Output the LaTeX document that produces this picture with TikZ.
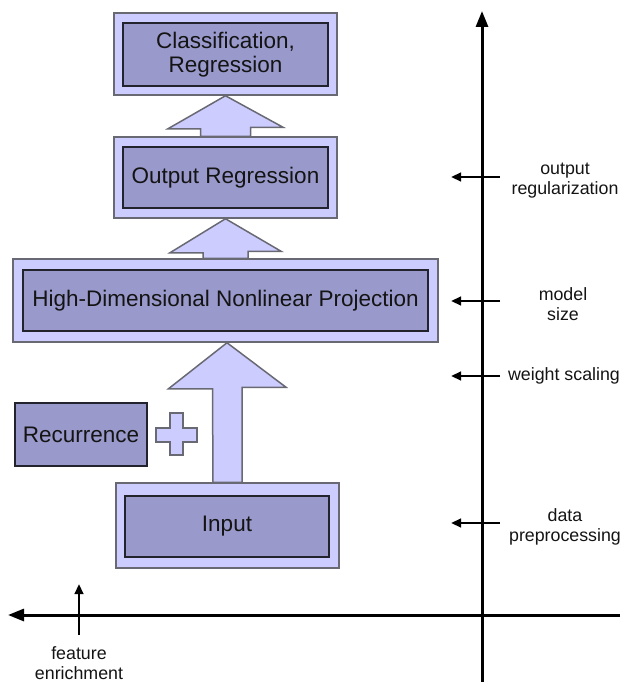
\documentclass[tikz,border=0pt]{standalone}
\usepackage{fontspec}
\setmainfont{Liberation Sans}
\usetikzlibrary{arrows.meta,calc}

\definecolor{outerfill}{RGB}{204,204,255}
\definecolor{innerfill}{RGB}{153,153,204}
\definecolor{outerline}{RGB}{105,105,115}
\definecolor{innerline}{RGB}{35,35,45}

\tikzset{
  outerbox/.style={draw=outerline, fill=outerfill, line width=1.5pt, rectangle, inner sep=0pt},
  innerbox/.style={draw=innerline, fill=innerfill, line width=1.4pt, rectangle, inner sep=0pt,
                   font=\fontsize{22.5}{24}\selectfont, align=center, text=black!92},
  blockarrow/.style={draw=outerline, fill=outerfill, line width=1.5pt, line join=miter},
  axisline/.style={line width=3pt, -{Triangle[length=16pt, width=12pt]}},
  tickarrow/.style={line width=2.6pt, -{Triangle[length=10pt, width=8.5pt]}},
  sidelabel/.style={font=\fontsize{17.8}{20}\selectfont, align=center, inner sep=0pt, text=black!92}
}

\begin{document}
\begin{tikzpicture}[x=1pt, y=-1pt]
  \useasboundingbox (0,0) rectangle (623,682);

  % stacked blocks, outer frames first
  \node[outerbox, minimum width=223pt, minimum height=82pt] (clsO) at (225.5,54) {};
  \node[innerbox, minimum width=205pt, minimum height=63pt] (cls) at (225.5,54.5)
       {Classification,\\Regression};

  \node[outerbox, minimum width=223pt, minimum height=81pt] (outO) at (225.5,177.5) {};
  \node[innerbox, minimum width=205pt, minimum height=61pt] (out) at (225.5,177.5)
       {Output Regression};

  \node[outerbox, minimum width=425pt, minimum height=83pt] (hdnO) at (225.5,300.5) {};
  \node[innerbox, minimum width=405pt, minimum height=61pt] (hdn) at (225.5,300.5)
       {High-Dimensional Nonlinear Projection};

  \node[outerbox, minimum width=223pt, minimum height=85pt] (inO) at (227.5,525.5) {};
  \node[innerbox, minimum width=204pt, minimum height=61pt] (in) at (227,526.5)
       {Input};

  \node[innerbox, minimum width=132pt, minimum height=63pt] (rec) at (81,434.5)
       {Recurrence};

  % plus sign
  \draw[blockarrow] (170,413) -- (183,413) -- (183,428) -- (197,428) -- (197,442)
       -- (183,442) -- (183,455) -- (170,455) -- (170,442) -- (156,442)
       -- (156,428) -- (170,428) -- cycle;

  % block arrows between the stages
  \draw[blockarrow] (clsO.south) -- ++(-57.5,33) -- ++(32.5,0)
       -- ($(outO.north)+(-25,0)$) -- ($(outO.north)+(25,0)$)
       -- ++(0,-9) -- ++(32.5,0) -- cycle;
  \draw[blockarrow] (outO.south) -- ++(-55.5,34) -- ++(33,0)
       -- ($(hdnO.north)+(-22.5,0)$) -- ($(hdnO.north)+(22.5,0)$)
       -- ++(0,-7) -- ++(33,0) -- cycle;
  \draw[blockarrow] ($(hdnO.south)+(1.5,0)$) -- ++(-58.5,46) -- ++(44,0)
       -- ($(inO.north)+(-14.5,0)$) -- ($(inO.north)+(14.5,0)$)
       -- ++(0,-95) -- ++(44,0) -- cycle;

  % axes
  \coordinate (vbot) at (482,682);
  \coordinate (vtop) at (482,11);
  \coordinate (hright) at (620,615);
  \coordinate (hleft) at (8,615);
  \draw[axisline] (vbot) -- (vtop);
  \draw[axisline] (hright) -- (hleft);

  % knobs along the vertical axis
  \coordinate (t1s) at (500,177); \coordinate (t1e) at (451,177);
  \coordinate (t2s) at (500,301); \coordinate (t2e) at (451,301);
  \coordinate (t3s) at (500,376); \coordinate (t3e) at (451,376);
  \coordinate (t4s) at (500,523); \coordinate (t4e) at (451,523);
  \draw[tickarrow] (t1s) -- (t1e);
  \draw[tickarrow] (t2s) -- (t2e);
  \draw[tickarrow] (t3s) -- (t3e);
  \draw[tickarrow] (t4s) -- (t4e);

  \node[sidelabel] (l1) at (565,181) {output\\regularization};
  \node[sidelabel] (l2) at (563,304) {model\\size};
  \node[sidelabel] (l3) at (564,376) {weight scaling};
  \node[sidelabel] (l4) at (565,527) {data\\preprocessing};

  % knob on the horizontal axis
  \coordinate (fs) at (79,635);
  \coordinate (fe) at (79,584);
  \draw[tickarrow] (fs) -- (fe);
  \node[sidelabel] (l5) at (79,663) {feature\\enrichment};
\end{tikzpicture}
\end{document}
